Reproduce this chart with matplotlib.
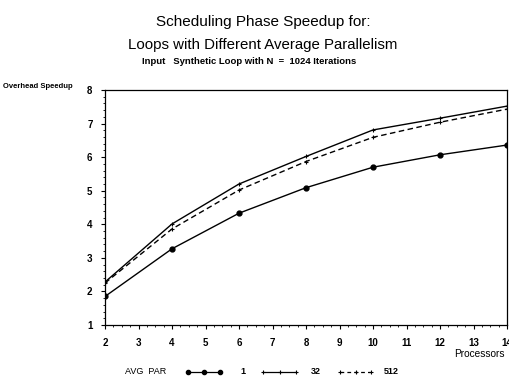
import matplotlib
matplotlib.use("Agg")
import matplotlib.pyplot as plt
from matplotlib.ticker import MultipleLocator
from matplotlib.lines import Line2D

processors = [2, 4, 6, 8, 10, 12, 14]
par1 = [1.85, 3.27, 4.33, 5.09, 5.70, 6.07, 6.36]
par32 = [2.28, 4.01, 5.20, 6.02, 6.81, 7.16, 7.52]
par512 = [2.25, 3.86, 5.02, 5.87, 6.59, 7.04, 7.43]
xticks = list(range(2, 15))
yticks = list(range(1, 9))

plt.rcParams['font.family'] = ['Liberation Sans', 'DejaVu Sans']

fig = plt.figure(figsize=(5.09, 3.83), dpi=100)
ax = fig.add_axes([105/509, 1-325/383, (507-105)/509, (325-90)/383])

ax.plot(processors, par1, '-', color='black', lw=1.0, marker='o', ms=3.5)
ax.plot(processors, par32, '-', color='black', lw=1.0, marker='+', ms=3, mew=0.8)
ax.plot(processors, par512, '--', color='black', lw=1.0, marker='+', ms=3, mew=0.8, dashes=(4, 2.5))

ax.set_xlim(2, 14)
ax.set_ylim(1, 8)
ax.set_xticks(xticks)
ax.set_yticks(yticks)
ax.xaxis.set_minor_locator(MultipleLocator(0.25))
ax.yaxis.set_minor_locator(MultipleLocator(0.2))
ax.tick_params(which='major', length=3, width=0.8, labelsize=7, pad=6)
ax.tick_params(which='minor', length=1.5, width=0.6)
for lab in ax.get_xticklabels() + ax.get_yticklabels():
    lab.set_fontweight('bold')
for s in ax.spines.values():
    s.set_linewidth(0.9)

fig.text(263/509, 1-22/383, "Scheduling Phase Speedup for:", ha='center', va='center', fontsize=11)
fig.text(263/509, 1-45/383, "Loops with Different Average Parallelism", ha='center', va='center', fontsize=10.8)
fig.text(249/509, 1-61/383, "Input   Synthetic Loop with N  =  1024 Iterations", ha='center', va='center', fontsize=6.8, fontweight='bold')
fig.text(3/509, 1-87/383, "Overhead Speedup", ha='left', va='center', fontsize=5.5, fontweight='bold')
fig.text(505/509, 1-354/383, "Processors", ha='right', va='center', fontsize=7.3)

# legend
ly = 1-372/383
fig.text(125/509, ly, "AVG  PAR", ha='left', va='center', fontsize=6.5)
fig.add_artist(Line2D([188/509, 220/509], [ly, ly], color='black', lw=0.9))
fig.add_artist(Line2D([188/509, 204/509, 220/509], [ly, ly, ly], color='black', lw=0, marker='o', ms=3))
fig.text(240/509, ly, "1", ha='left', va='center', fontsize=6.5, fontweight='bold')
fig.add_artist(Line2D([263/509, 296/509], [ly, ly], color='black', lw=0.9))
fig.add_artist(Line2D([263/509, 280/509, 296/509], [ly, ly, ly], color='black', lw=0, marker='+', ms=3, mew=0.8))
fig.text(311/509, ly, "32", ha='left', va='center', fontsize=6.5, fontweight='bold')
fig.add_artist(Line2D([340/509, 371/509], [ly, ly], color='black', lw=0.9, ls='--', dashes=(3, 2.5)))
fig.add_artist(Line2D([340/509, 356/509, 371/509], [ly, ly, ly], color='black', lw=0, marker='+', ms=3, mew=0.8))
fig.text(384/509, ly, "512", ha='left', va='center', fontsize=6.5, fontweight='bold')

fig.savefig("out.png", dpi=100)
